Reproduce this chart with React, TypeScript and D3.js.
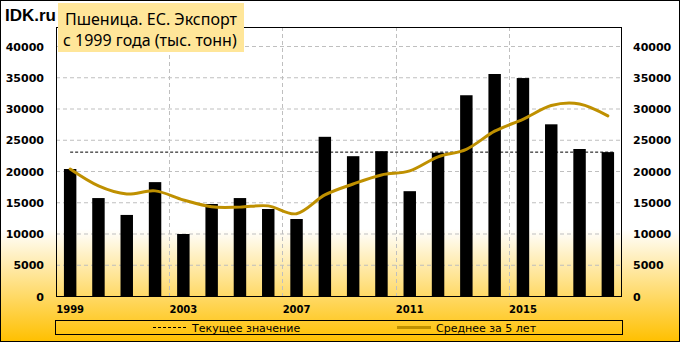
import React from "react";
import * as d3 from "d3";

const years = [1999,2000,2001,2002,2003,2004,2005,2006,2007,2008,2009,2010,2011,2012,2013,2014,2015,2016,2017,2018];
const exports = [20400,15750,13050,18300,10000,14800,15750,14000,12400,25550,22450,23250,16850,23000,32200,35600,34950,27550,23600,23100];
const avg5 = [20400,17700,16400,16900,15450,14350,14300,14500,13250,16250,18000,19450,20100,22350,23550,26450,28350,30550,30800,28900];
const currentValue = 23100;
const yTicks = [0,5000,10000,15000,20000,25000,30000,35000,40000];
const xLabelYears = [1999,2003,2007,2011,2015];
const gridYears = [2003,2007,2011,2015];
const titleLines = ["Пшеница. ЕС. Экспорт", "с 1999 года (тыс. тонн)"];
const legendLabels = ["Текущее значение", "Среднее за 5 лет"];

const W = 680, H = 342;
const plotL = 56, plotR = 622, plotT = 27, plotB = 297;

export default function App() {
  const x = d3.scaleBand<number>().domain(years).range([plotL, plotR]).padding(0);
  const y = d3.scaleLinear().domain([0, 40000]).range([296.5, 46.5]);
  const bw = x.bandwidth() * 0.44;
  const cx = (yr: number) => (x(yr) as number) + x.bandwidth() / 2;
  const line = d3.line<number>()
    .x((_, i) => cx(years[i]))
    .y((d) => y(d))
    .curve(d3.curveCatmullRom.alpha(0));
  const gold = "#BF9000";
  const axisFont = "'DejaVu Sans', Verdana, sans-serif";
  return (
    <svg width={W} height={H} style={{ display: "block", position: "absolute", left: 0, top: 0 }}>
      <defs>
        <linearGradient id="bg" x1="0" y1="0" x2="0" y2="1">
          <stop offset="0" stopColor="#FFFFFF" />
          <stop offset="0.67" stopColor="#FFFFFF" />
          <stop offset="1" stopColor="#FFC000" />
        </linearGradient>
      </defs>
      <rect x={0.5} y={0.5} width={W - 1} height={H - 1} fill="url(#bg)" stroke="#000" strokeWidth={1} />
      {/* horizontal grid */}
      {yTicks.filter((t) => t > 0).map((t) => (
        <line key={"h" + t} x1={plotL} x2={plotR} y1={y(t)} y2={y(t)} stroke="#BFBFBF" strokeWidth={1} strokeDasharray="4,3" />
      ))}
      {/* vertical grid */}
      {gridYears.map((yr) => (
        <line key={"v" + yr} x1={Math.round(x(yr) as number) + 0.5} x2={Math.round(x(yr) as number) + 0.5} y1={plotT} y2={plotB} stroke="#BFBFBF" strokeWidth={1} strokeDasharray="4,3" />
      ))}
      {/* bars */}
      {years.map((yr, i) => (
        <rect key={"b" + yr} x={cx(yr) - bw / 2} y={y(exports[i])} width={bw} height={y(0) - y(exports[i])} fill="#000" />
      ))}
      {/* current value line */}
      <line x1={cx(years[0])} x2={cx(years[years.length - 1]) + bw / 2} y1={y(currentValue)} y2={y(currentValue)} stroke="#000" strokeWidth={1} strokeDasharray="3,2" />
      {/* 5-year average */}
      <path d={line(avg5) || ""} fill="none" stroke={gold} strokeWidth={3} strokeLinecap="round" />
      {/* plot frame */}
      <rect x={plotL + 0.5} y={plotT + 0.5} width={plotR - plotL - 1} height={plotB - plotT - 1} fill="none" stroke="#000" strokeWidth={1} />
      {/* y labels */}
      {yTicks.map((t) => (
        <g key={"yl" + t}>
          <text x={44} y={y(t) + 4} textAnchor="end" fontFamily={axisFont} fontWeight="bold" fontSize={11} fill="#000">{t}</text>
          <text x={633} y={y(t) + 4} textAnchor="start" fontFamily={axisFont} fontWeight="bold" fontSize={11} fill="#000">{t}</text>
        </g>
      ))}
      {/* x labels */}
      {xLabelYears.map((yr) => (
        <text key={"xl" + yr} x={cx(yr)} y={313} textAnchor="middle" fontFamily={axisFont} fontWeight="bold" fontSize={10} fill="#000">{yr}</text>
      ))}
      {/* legend */}
      <rect x={55.5} y={320.5} width={567} height={14} fill="none" stroke="#000" strokeWidth={1} />
      <line x1={153} x2={186} y1={327.5} y2={327.5} stroke="#000" strokeWidth={1} strokeDasharray="3,2" />
      <text x={192} y={331.5} fontFamily={axisFont} fontSize={11} fill="#000">{legendLabels[0]}</text>
      <line x1={397} x2={431} y1={327.5} y2={327.5} stroke={gold} strokeWidth={3} />
      <text x={436} y={331.5} fontFamily={axisFont} fontSize={11} fill="#000">{legendLabels[1]}</text>
      {/* title */}
      <rect x={58} y={3} width={186} height={25} fill="#FFE699" />
      <rect x={58} y={28} width={186} height={24} fill="#FFE699" />
      <text x={65} y={25} fontFamily="'Noto Sans', sans-serif" fontSize={16} fill="#000">{titleLines[0]}</text>
      <text x={63} y={46} fontFamily="'Noto Sans', sans-serif" fontSize={16} fill="#000">{titleLines[1]}</text>
      <text x={5} y={21} fontFamily="'Liberation Sans', Arial, sans-serif" fontWeight="bold" fontSize={17} fill="#000">IDK.ru</text>
    </svg>
  );
}
